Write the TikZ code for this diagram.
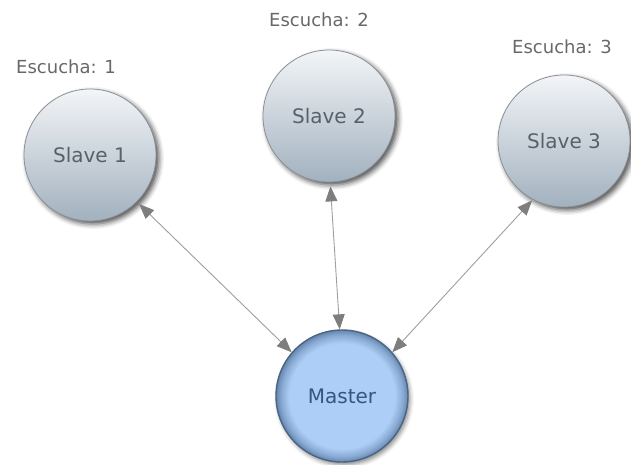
\documentclass[tikz,border=0pt]{standalone}
\usepackage{fontspec}
\setmainfont{DejaVu Sans}
\usetikzlibrary{arrows.meta,shadows.blur}

\definecolor{slavetop}{HTML}{F3F5F7}
\definecolor{slavebottom}{HTML}{A2B1BF}
\definecolor{slaveline}{HTML}{8A9095}
\definecolor{slavetext}{HTML}{58616A}
\definecolor{masterfill}{HTML}{ACCEF7}
\definecolor{masterring}{HTML}{6686AE}
\definecolor{masterline}{HTML}{4A6484}
\definecolor{mastertext}{HTML}{35567D}
\definecolor{linkgray}{HTML}{9E9E9E}
\definecolor{tipgray}{HTML}{7E7E7E}
\definecolor{labelgray}{HTML}{686868}

% light centre, darker rim (the circle's edge sits at 25bp)
\pgfdeclareradialshading{masterglow}{\pgfpoint{0bp}{0bp}}{%
  color(0bp)=(masterfill); color(20bp)=(masterfill);
  color(23bp)=(masterring!50!masterfill); color(25bp)=(masterring);
  color(50bp)=(masterring)}

\tikzset{
  slave/.style={circle, draw=slaveline, line width=0.8pt, minimum size=132pt,
    inner sep=0pt, top color=slavetop, bottom color=slavebottom,
    text=slavetext, font=\fontsize{20}{24}\selectfont,
    blur shadow={shadow xshift=3pt, shadow yshift=-3pt,
      shadow blur radius=5pt, shadow opacity=70}},
  master/.style={circle, draw=masterline, line width=1.4pt, minimum size=132pt,
    inner sep=0pt, shading=masterglow, text=mastertext,
    font=\fontsize{20}{24}\selectfont,
    blur shadow={shadow xshift=2pt, shadow yshift=-3pt,
      shadow blur radius=4pt, shadow opacity=45}},
  listen/.style={text=labelgray, font=\fontsize{18}{22}\selectfont},
  link/.style={{Triangle[length=15pt,width=12pt,color=tipgray]}-{Triangle[length=15pt,width=12pt,color=tipgray]},
    draw=linkgray, line width=0.9pt}
}

\begin{document}
\begin{tikzpicture}[x=1pt,y=-1pt]
    \useasboundingbox (0,0) rectangle (631,464);

    % Nodes
    \node[slave] (S1) at (90,155) {Slave 1};
    \node[slave] (S2) at (329,116) {Slave 2};
    \node[slave] (S3) at (564,141) {Slave 3};

    \node[master] (M) at (342,396) {Master};

    \node[listen] (L1) at (66,67) {Escucha: 1};
    \node[listen] (L2) at (319,20) {Escucha: 2};
    \node[listen] (L3) at (562,47) {Escucha: 3};

    % Lines
    \draw[link, shorten <=3pt] (S1.-45) -- (M.139);
    \draw[link, shorten <=4pt] (S2.-89) -- (M.92);
    \draw[link, shorten <=1pt] (S3.-118) -- (M.41);

\end{tikzpicture}
\end{document}
